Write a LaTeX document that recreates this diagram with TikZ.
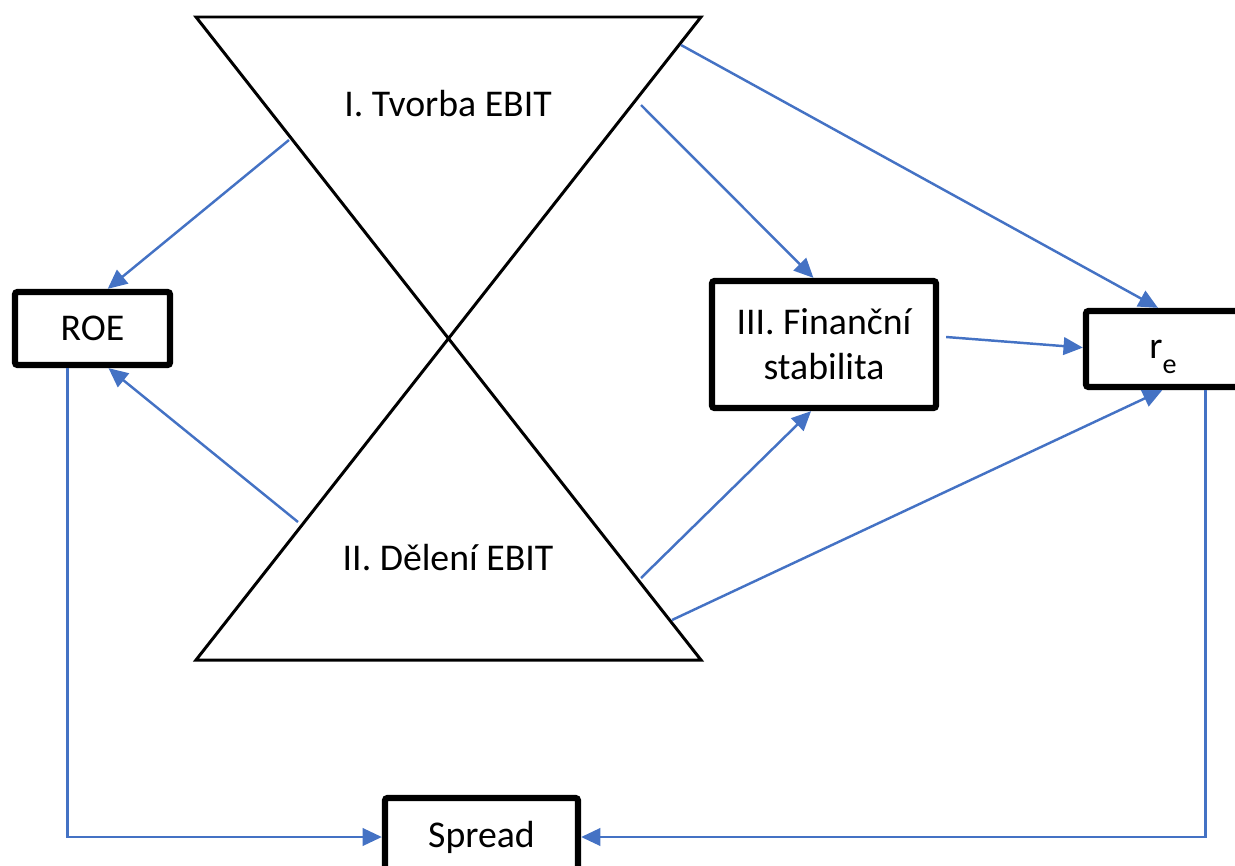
\documentclass[tikz,border=0pt]{standalone}
\usepackage{fontspec}
\setmainfont{Carlito}
\usetikzlibrary{arrows.meta}
\definecolor{linkblue}{HTML}{4472C4}
\begin{document}
\begin{tikzpicture}[x=0.02cm,y=-0.02cm,
  box/.style={draw, line width=3.6pt, rounded corners=1.5pt, inner sep=0pt, align=center, font=\fontsize{21.5}{25.5}\selectfont},
  link/.style={draw=linkblue, line width=1.4pt, -{Triangle[length=11pt,width=10pt]}},
  lbl/.style={font=\fontsize{21.5}{25}\selectfont}]

\useasboundingbox (0,0) rectangle (1235,866);

%%%%%% Hourglass %%%%%%%

\draw[line width=1.7pt] (196,17) -- (701,17) -- (196,660) -- (701,660) -- cycle;

\node (tvorba) at (448,104) [lbl] {I. Tvorba EBIT};
\node (deleni) at (448,558) [lbl] {II. Dělení EBIT};

\coordinate (t1) at (289,140);
\coordinate (t2) at (641,105);
\coordinate (t3) at (681,45);
\coordinate (d1) at (298,522);
\coordinate (d2) at (641,578);
\coordinate (d3) at (672,620);

%%%%%% Boxes %%%%%%%

\node (roe) at (92.5,328.5) [box, minimum width=3.1cm, minimum height=1.46cm] {ROE};
\node (fin) at (824,344.5) [box, minimum width=4.48cm, minimum height=2.54cm] {III. Finanční\\stabilita};
\node (re) at (1163,349) [box, minimum width=3.08cm, minimum height=1.52cm] {r\smash{\raisebox{-8.5pt}{\fontsize{16}{16}\selectfont e}}};
\node (spread) at (481.5,837) [box, minimum width=3.86cm, minimum height=1.56cm] {Spread};

%%%%%% Links %%%%%%%

\draw[link] (t1) -- (roe.69);
\draw[link] (d1) -- (roe.-68);

\draw[link] (t2) -- (fin.99);
\draw[link] (d2) -- (fin.-101);

\draw[link] (t3) -- (re.97);
\draw[link, shorten <=4pt] (fin.4) -- (re.179);
\draw[link] (d3) -- (re.-91);

%%%%% Spread %%%%%
\draw[link] (roe.-122) |- (spread.west);
\draw[link] (re.-44) |- (spread.east);

\end{tikzpicture}
\end{document}
